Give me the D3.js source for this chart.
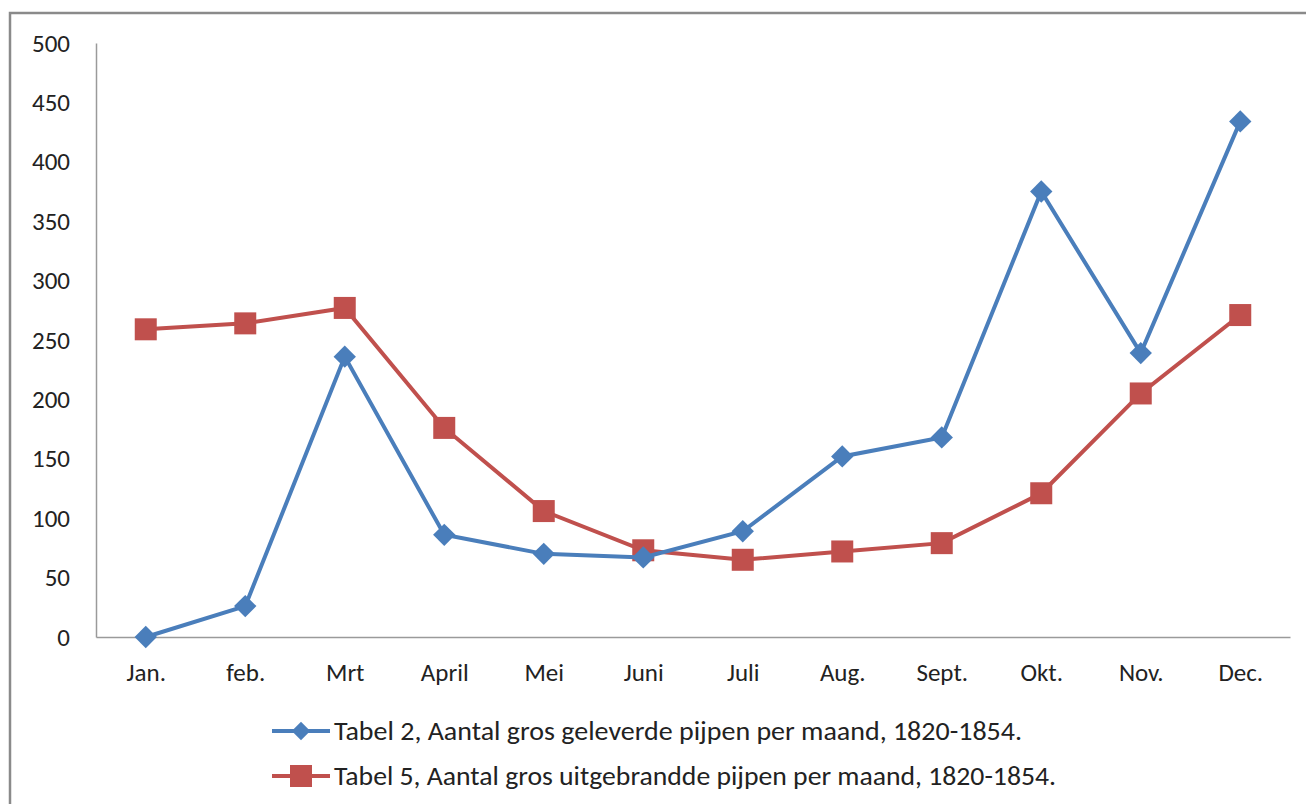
<!DOCTYPE html>
<html>
<head>
<meta charset="utf-8">
<script src="https://cdn.jsdelivr.net/npm/d3@7"></script>
<style>
  body { margin: 0; background: #fff; }
  svg { display: block; font-family: Calibri, Carlito, "Liberation Sans", sans-serif; }
</style>
</head>
<body>
<script>
var months = ['Jan.', 'feb.', 'Mrt', 'April', 'Mei', 'Juni', 'Juli', 'Aug.', 'Sept.', 'Okt.', 'Nov.', 'Dec.'];
var geleverd = [0, 26, 236, 86, 70, 67, 89, 152, 168, 375, 239, 434];
var uitgebrand = [259, 264, 277, 176, 106, 73, 65, 72, 79, 121, 205, 271];
var yTicks = [0, 50, 100, 150, 200, 250, 300, 350, 400, 450, 500];
var seriesNames = [
  'Tabel 2, Aantal gros geleverde pijpen per maand, 1820-1854.',
  'Tabel 5, Aantal gros uitgebrandde pijpen per maand, 1820-1854.'
];

var width = 1306, height = 804;
var plotLeft = 96, plotRight = 1290, plotTop = 43, plotBottom = 637;
var fontStack = 'Calibri, Carlito, "Liberation Sans", sans-serif';

var svg = d3.select('body').append('svg')
  .attr('width', width)
  .attr('height', height);

// outer frame
svg.append('rect')
  .attr('x', 10).attr('y', 13)
  .attr('width', width + 10).attr('height', height + 10)
  .attr('fill', 'none')
  .attr('stroke', '#8a8a8a')
  .attr('stroke-width', 2.5);

var x = d3.scalePoint()
  .domain(months)
  .range([plotLeft, plotRight])
  .padding(0.5);

var y = d3.scaleLinear()
  .domain([0, 500])
  .range([plotBottom, plotTop]);

var yAxis = d3.axisLeft(y).tickValues(yTicks).tickSize(0).tickPadding(26);
var gy = svg.append('g').attr('transform', 'translate(' + plotLeft + ',0)').call(yAxis);
gy.select('.domain').attr('stroke', '#9a9a9a').attr('stroke-width', 1.5);
gy.selectAll('text').attr('font-size', 25).attr('fill', '#222')
  .attr('font-family', fontStack);

var xAxis = d3.axisBottom(x).tickSize(0).tickPadding(26);
var gx = svg.append('g').attr('transform', 'translate(0,' + plotBottom + ')').call(xAxis);
gx.select('.domain').attr('stroke', '#9a9a9a').attr('stroke-width', 1.5);
gx.selectAll('text').attr('font-size', 25).attr('fill', '#222')
  .attr('font-family', fontStack);

var line = d3.line()
  .x(function(d, i) { return x(months[i]); })
  .y(function(d) { return y(d); });

var blue = '#4a7ebb', red = '#c0504d';

// red series first, then blue on top
svg.append('path')
  .attr('d', line(uitgebrand))
  .attr('fill', 'none')
  .attr('stroke', red)
  .attr('stroke-width', 4);

svg.selectAll('.sq')
  .data(uitgebrand)
  .enter()
  .append('rect')
    .attr('class', 'sq')
    .attr('x', function(d, i) { return x(months[i]) - 11; })
    .attr('y', function(d) { return y(d) - 11; })
    .attr('width', 22)
    .attr('height', 22)
    .attr('fill', red);

svg.append('path')
  .attr('d', line(geleverd))
  .attr('fill', 'none')
  .attr('stroke', blue)
  .attr('stroke-width', 4);

svg.selectAll('.dm')
  .data(geleverd)
  .enter()
  .append('path')
    .attr('class', 'dm')
    .attr('d', d3.symbol().type(d3.symbolSquare).size(250))
    .attr('transform', function(d, i) {
      return 'translate(' + x(months[i]) + ',' + y(d) + ') rotate(45)';
    })
    .attr('fill', blue);

// legend
var legend = svg.append('g');
var legendRows = [
  {name: seriesNames[0], color: blue, shape: 'diamond', y: 731, len: 688},
  {name: seriesNames[1], color: red, shape: 'square', y: 776, len: 722}
];
legendRows.forEach(function(r) {
  legend.append('line')
    .attr('x1', 272).attr('x2', 330)
    .attr('y1', r.y).attr('y2', r.y)
    .attr('stroke', r.color).attr('stroke-width', 4);
  if (r.shape === 'square') {
    legend.append('rect')
      .attr('x', 290).attr('y', r.y - 11)
      .attr('width', 22).attr('height', 22)
      .attr('fill', r.color);
  } else {
    legend.append('path')
      .attr('d', d3.symbol().type(d3.symbolSquare).size(170))
      .attr('transform', 'translate(301,' + r.y + ') rotate(45)')
      .attr('fill', r.color);
  }
  legend.append('text')
    .attr('x', 334)
    .attr('y', r.y)
    .attr('dy', '0.35em')
    .attr('font-size', 26)
    .attr('textLength', r.len)
    .attr('lengthAdjust', 'spacingAndGlyphs')
    .attr('fill', '#222')
    .text(r.name);
});
</script>
</body>
</html>
